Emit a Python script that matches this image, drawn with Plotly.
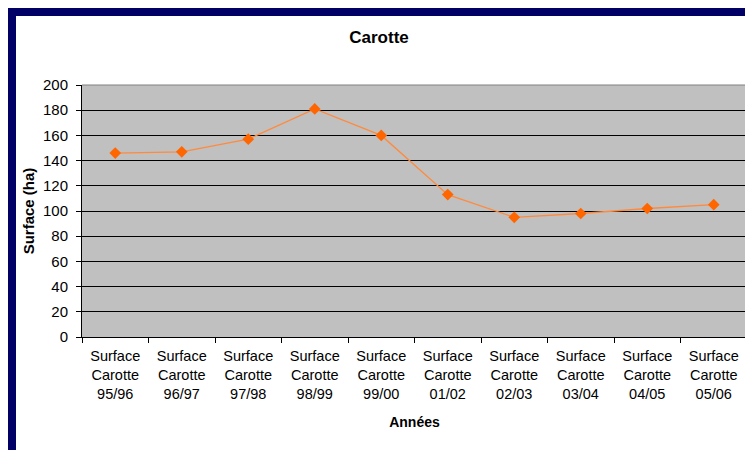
"""
Carotte - surface cultivée par campagne
"""

import plotly.graph_objects as go

# Data
campagnes = ["95/96", "96/97", "97/98", "98/99", "99/00",
             "01/02", "02/03", "03/04", "04/05", "05/06"]
surface_ha = [146, 147, 157, 181, 160, 113, 95, 98, 102, 105]
y_ticks = [0, 20, 40, 60, 80, 100, 120, 140, 160, 180, 200]

categories = [f"Surface<br>Carotte<br>{c}" for c in campagnes]

FONT = "Arial, 'Liberation Sans', sans-serif"
NAVY = "#000066"

fig = go.Figure()

fig.add_trace(
    go.Scatter(
        x=categories,
        y=surface_ha,
        mode="lines+markers",
        line=dict(color="#ff8a3d", width=1.3),
        marker=dict(symbol="diamond", size=9, color="#ff6600"),
        showlegend=False,
    )
)

# page has an 8px body margin, so the figure starts at (8, 8)
# plot area in figure pixels: x 74..739, y 77..329
W, H = 745, 442
L, R, T, B = 74, 6, 77, 113
PW, PH = W - L - R, H - T - B

fig.update_layout(
    width=W,
    height=H,
    margin=dict(l=L, r=R, t=T, b=B),
    paper_bgcolor="white",
    plot_bgcolor="#c0c0c0",
    font=dict(family=FONT, size=14, color="black"),
    title=dict(
        text="<b>Carotte</b>",
        x=(371 - L) / PW,
        xref="paper",
        xanchor="center",
        y=1 - 29 / H,
        yanchor="middle",
        font=dict(family=FONT, size=17, color="black"),
    ),
    xaxis=dict(
        type="category",
        range=[-0.5, len(categories) - 0.5],
        tickson="boundaries",
        ticks="outside",
        ticklen=5,
        tickcolor="black",
        showline=True,
        linecolor="black",
        linewidth=1,
        showgrid=False,
        tickangle=0,
        ticklabelstandoff=6,
        tickfont=dict(size=14.5),
        title=dict(text="<b>Années</b>", font=dict(size=14), standoff=16),
    ),
    yaxis=dict(
        range=[0, 200],
        tickvals=y_ticks,
        ticks="outside",
        ticklen=5,
        tickcolor="black",
        showline=True,
        linecolor="black",
        linewidth=1,
        showgrid=True,
        gridcolor="black",
        gridwidth=1,
        zeroline=False,
        ticklabelstandoff=5,
        tickfont=dict(size=15),
        title=dict(text="<b>Surface (ha)</b>", font=dict(size=15), standoff=4),
    ),
    shapes=[
        # navy frame, top and left
        dict(type="rect", xref="paper", yref="paper",
             x0=-L / PW, x1=1.1, y0=1 + (T - 8) / PH, y1=1 + (T + 2) / PH,
             fillcolor=NAVY, line=dict(width=0)),
        dict(type="rect", xref="paper", yref="paper",
             x0=-L / PW, x1=(8 - L) / PW, y0=-B / PH, y1=1 + (T + 2) / PH,
             fillcolor=NAVY, line=dict(width=0)),
        # plot area border, top and right
        dict(type="line", xref="paper", yref="paper",
             x0=0, x1=1, y0=1, y1=1, line=dict(color="#808080", width=1)),
        dict(type="line", xref="paper", yref="paper",
             x0=1, x1=1, y0=0, y1=1, line=dict(color="#808080", width=1)),
    ],
)

fig.write_html("out.html")
